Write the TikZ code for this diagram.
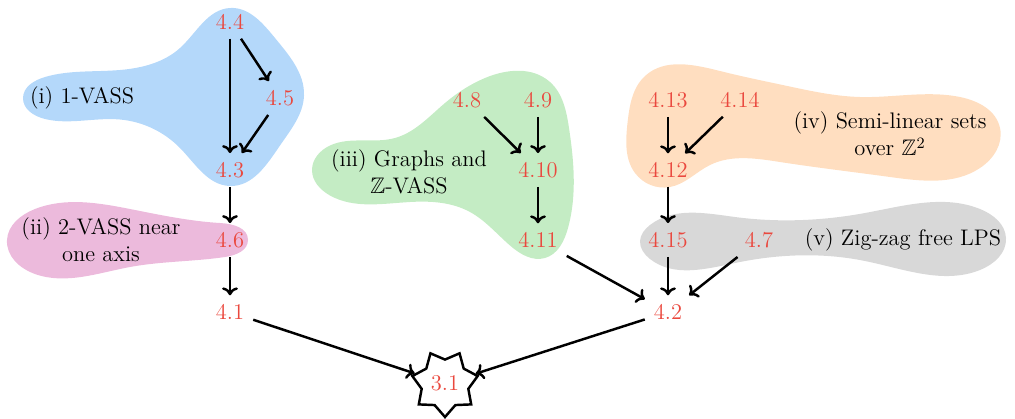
\documentclass[tikz,border=0pt]{standalone}
\usepackage{amsmath,amsthm,amssymb}
\usepackage{tikz}
\usetikzlibrary{shapes.geometric,arrows.meta,hobby}

\definecolor{blobblue}{RGB}{180,216,250}
\definecolor{blobpink}{RGB}{236,186,220}
\definecolor{blobgreen}{RGB}{196,236,196}
\definecolor{bloborange}{RGB}{255,222,192}
\definecolor{blobgray}{RGB}{216,216,216}
\definecolor{lemred}{RGB}{234,72,62}

\tikzset{
  lem/.style={text=lemred, inner sep=5pt},
  grp/.style={align=center, inner sep=1pt},
  imp/.style={-{To[length=4.5pt,width=9pt]}, line width=1.4pt, black},
  blob/.style={use Hobby shortcut, closed=true},
}

\begin{document}
\begin{tikzpicture}[font=\fontsize{12.8}{15.5}\selectfont]
\useasboundingbox (0,0) rectangle (20.3,8.36);
% blobs
\fill[blobblue, blob] (4.6,8.2) .. (5.5,7.6) .. (6.08,6.45) .. (5.6,5.45) .. (4.6,4.64) .. (3.6,5.4) .. (2.4,5.97) .. (0.9,5.98) .. (0.46,6.4) .. (0.9,6.82) .. (2.4,6.96) .. (3.6,7.4);
\fill[blobpink, blob] (0.14,3.56) .. (0.7,4.18) .. (2.6,4.18) .. (4.4,3.9) .. (4.96,3.56) .. (4.5,3.22) .. (2.6,3.02) .. (0.7,2.88);
\fill[blobgreen, blob] (9.7,6.8) .. (11.0,6.72) .. (11.38,5.8) .. (11.36,3.8) .. (10.9,3.2) .. (10.2,3.45) .. (9.4,4.12) .. (8.2,4.32) .. (6.6,4.45) .. (6.24,4.96) .. (6.6,5.45) .. (7.9,5.6) .. (8.9,6.3);
\fill[bloborange, blob] (12.9,6.84) .. (14.4,6.94) .. (15.7,6.65) .. (17.2,6.42) .. (19.2,6.42) .. (20.0,5.8) .. (19.6,5.0) .. (17.8,4.82) .. (15.6,5.12) .. (14.2,5.06) .. (13.4,4.62) .. (12.7,4.9) .. (12.55,5.9);
\fill[blobgray, blob] (13.0,3.86) .. (14.7,4.02) .. (17.3,4.1) .. (19.6,4.18) .. (20.12,3.6) .. (19.6,2.96) .. (17.3,3.14) .. (14.7,3.1) .. (13.0,3.18) .. (12.8,3.54);

% group labels
\node[grp] (vass1) at (1.64,6.4) {(i) 1-VASS};
\node[grp] (vass2) at (2.02,3.56) {(ii) 2-VASS near\\one axis};
\node[grp] (graphs) at (8.18,4.93) {(iii) Graphs and\\$\mathbb{Z}$-VASS};
\node[grp] (semilin) at (17.8,5.68) {(iv) Semi-linear sets\\over $\mathbb{Z}^2$};
\node[grp] (zigzag) at (18.06,3.56) {(v) Zig-zag free LPS};

% results
\node[lem] (l44) at (4.6,7.92) {4.4};
\node[lem] (l45) at (5.6,6.4) {4.5};
\node[lem] (l43) at (4.6,4.96) {4.3};
\node[lem] (l46) at (4.6,3.56) {4.6};
\node[lem] (l41) at (4.6,2.12) {4.1};
\node[lem] (l48) at (9.34,6.36) {4.8};
\node[lem] (l49) at (10.76,6.36) {4.9};
\node[lem] (l410) at (10.76,4.96) {4.10};
\node[lem] (l411) at (10.76,3.56) {4.11};
\node[lem] (l413) at (13.36,6.36) {4.13};
\node[lem] (l414) at (14.8,6.36) {4.14};
\node[lem] (l412) at (13.36,4.96) {4.12};
\node[lem] (l415) at (13.36,3.56) {4.15};
\node[lem] (l47) at (15.18,3.56) {4.7};
\node[lem] (l42) at (13.36,2.12) {4.2};
\node[lem, draw=black, line width=1.4pt, star, star points=7, star point ratio=1.4,
  shape border rotate=180, inner sep=1pt, minimum size=1.34cm] (l31) at (8.9,0.69) {3.1};

% implications
\draw[imp] (l44) -- (l43);
\draw[imp] (l44) -- (l45);
\draw[imp] (l45) -- (l43);
\draw[imp] (l43) -- (l46);
\draw[imp] (l46) -- (l41);
\draw[imp] (l41) -- (l31);
\draw[imp] (l48) -- (l410);
\draw[imp] (l49) -- (l410);
\draw[imp] (l410) -- (l411);
\draw[imp] (l411) -- (l42);
\draw[imp] (l413) -- (l412);
\draw[imp] (l414) -- (l412);
\draw[imp] (l412) -- (l415);
\draw[imp] (l415) -- (l42);
\draw[imp] (l47) -- (l42);
\draw[imp] (l42) -- (l31);
\end{tikzpicture}
\end{document}
